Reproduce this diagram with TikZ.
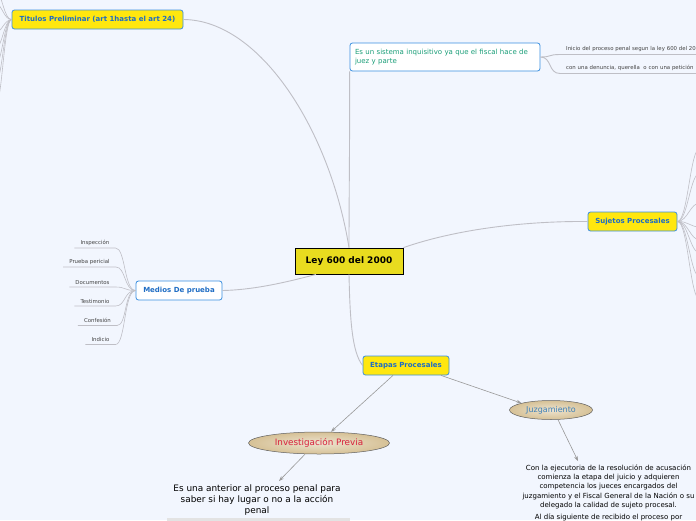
\documentclass[tikz,border=0pt]{standalone}
\usepackage{fontspec}
\setmainfont{DejaVu Sans}
\usetikzlibrary{shapes.geometric, arrows.meta, positioning}

\definecolor{canvas}{HTML}{F2F6FE}
\definecolor{rootyellow}{HTML}{E9DC1F}
\definecolor{topicyellow}{HTML}{FFE70F}
\definecolor{topicblue}{HTML}{3A8FE0}
\definecolor{topictext}{HTML}{1F6DC4}
\definecolor{sistemagreen}{HTML}{1A9E78}
\definecolor{linkgray}{HTML}{BFBFC6}
\definecolor{stagetan}{HTML}{D6C196}
\definecolor{stagered}{HTML}{D8203C}
\definecolor{stageblue}{HTML}{3D80B8}
\definecolor{leaftext}{HTML}{444444}

\tikzset{
    root/.style={draw=black, fill=rootyellow, line width=0.8pt, minimum width=108pt,
        minimum height=26pt, font=\bfseries\fontsize{9}{10}\selectfont},
    topic/.style={draw=topicblue, fill=topicyellow, line width=0.8pt, rounded corners=2.5pt,
        minimum height=19pt, text=topictext, font=\bfseries\fontsize{7}{8}\selectfont},
    subtopic/.style={topic, fill=white},
    stage/.style={ellipse, draw=gray!75!black, line width=0.5pt, inner color=stagetan!45!white,
        outer color=stagetan, inner sep=0pt},
    leaf/.style={text=leaftext, font=\fontsize{5.4}{6.5}\selectfont, inner xsep=6pt, inner ysep=2.5pt},
    note/.style={align=center, text=black},
    link/.style={draw=linkgray, line width=0.9pt},
    arrowlink/.style={draw=gray!80, line width=0.6pt, -{Stealth[length=5pt, width=3.5pt]}},
}

\begin{document}
\begin{tikzpicture}[x=1pt, y=-1pt]
    \useasboundingbox (0,0) rectangle (696,520);
    \clip (0,0) rectangle (696,520);
    \fill[canvas] (0,0) rectangle (696,520);

    % 1. Main topics
    \node[root] (ley) at (349,261) {Ley 600 del 2000};
    \node[topic, minimum width=171pt] (titulos) at (97.5,19.5) {Titulos Preliminar (art 1hasta el art 24)};
    \node[subtopic, minimum width=190pt, minimum height=28pt, text width=180pt, align=left,
        text=sistemagreen, font=\fontsize{7}{9.5}\selectfont] (sistema) at (445,57)
        {Es un sistema inquisitivo ya que el fiscal hace de juez y parte};
    \node[topic, minimum width=89pt] (sujetos) at (632.5,221.5) {Sujetos Procesales};
    \node[subtopic, minimum width=86pt] (medios) at (179,290.5) {Medios De prueba};
    \node[topic, minimum width=86pt] (etapas) at (406,365.5) {Etapas Procesales};

    \draw[link] (ley.north) .. controls (330,130) and (260,20) .. (titulos.east);
    \draw[link] (ley.north) .. controls (349,200) and (350,110) .. (sistema.south west);
    \draw[link] (ley.north east) .. controls (460,228) and (530,221) .. (sujetos.west);
    \draw[link] ([xshift=-33pt]ley.south) .. controls (280,284) and (250,290) .. (medios.east);
    \draw[link] (ley.south) .. controls (350,320) and (352,352) .. (etapas.west);

    % 2. Branches that run off the page
    \foreach \y [count=\i] in {-8, 4, 32, 48, 64, 82, 104} {
        \coordinate (tl\i) at (-4,\y);
        \draw[link, line width=0.6pt] (titulos.west) .. controls (4,20) and (2,\y) .. (tl\i);
    }
    \foreach \y [count=\i] in {148, 173, 203, 227, 240, 253, 277, 300} {
        \coordinate (sj\i) at (700,\y);
        \draw[link, line width=0.6pt] (sujetos.east) .. controls (688,221) and (690,\y) .. (sj\i);
    }

    \node[leaf, anchor=south west, text width=190pt, align=left] (inicio) at (560,54.5)
        {Inicio del proceso penal segun la ley 600 del 2000};
    \node[leaf, anchor=south west, text width=190pt, align=left] (denuncia) at (560,73.5)
        {con una denuncia, querella\ \ o con una petición};
    \foreach \n in {inicio, denuncia}
        \draw[link] (sistema.east) .. controls (552,57) and ([xshift=-12pt]\n.south west) .. (\n.south west) -- (\n.south east);

    % 3. Medios de prueba
    \node[leaf, anchor=south] (inspeccion) at (95,248) {Inspección};
    \node[leaf, anchor=south] (pericial) at (89.5,267) {Prueba pericial};
    \node[leaf, anchor=south] (documentos) at (92.5,287) {Documentos};
    \node[leaf, anchor=south] (testimonio) at (95,306) {Testimonio};
    \node[leaf, anchor=south] (confesion) at (97.5,325.5) {Confesión};
    \node[leaf, anchor=south] (indicio) at (100.5,344.5) {Indicio};
    \foreach \n in {inspeccion, pericial, documentos, testimonio, confesion, indicio}
        \draw[link, line width=0.6pt] (medios.west) .. controls (124,290.5) and ([xshift=10pt]\n.south east) .. (\n.south east) -- (\n.south west);

    % 4. Etapas procesales
    \node[stage, minimum width=141pt, minimum height=22pt, text=stagered,
        font=\fontsize{8.8}{10}\selectfont] (investigacion) at (319,443) {Investigación Previa};
    \node[stage, minimum width=83pt, minimum height=19pt, text=stageblue,
        font=\fontsize{8}{9}\selectfont] (juzgamiento) at (551,410) {Juzgamiento};

    \node[note, font=\fontsize{8.9}{11}\selectfont, anchor=north] (previatext) at (257,481)
        {Es una anterior al proceso penal para\\ saber si hay lugar o no a la acción\\ penal};
    \fill[gray!22] (167,517.5) rectangle (350,524);

    \node[note, font=\fontsize{7}{9.3}\selectfont, anchor=north] (juicio) at (608.5,461)
        {Con la ejecutoria de la resolución de acusación\\ comienza la etapa del juicio y adquieren\\
        competencia los jueces encargados del\\ juzgamiento y el Fiscal General de la Nación o su\\
        delegado la calidad de sujeto procesal.\\[3pt]
        Al día siguiente de recibido el proceso por};

    \draw[arrowlink] ([xshift=-13pt]etapas.south) -- ([xshift=12pt]investigacion.north);
    \draw[arrowlink] ([xshift=35pt]etapas.south) -- (juzgamiento.north west);
    \draw[arrowlink] ([xshift=-14pt]investigacion.south) -- ([xshift=22pt]previatext.north);
    \draw[arrowlink] ([xshift=7pt]juzgamiento.south) -- ([xshift=-30.5pt]juicio.north);

\end{tikzpicture}
\end{document}
